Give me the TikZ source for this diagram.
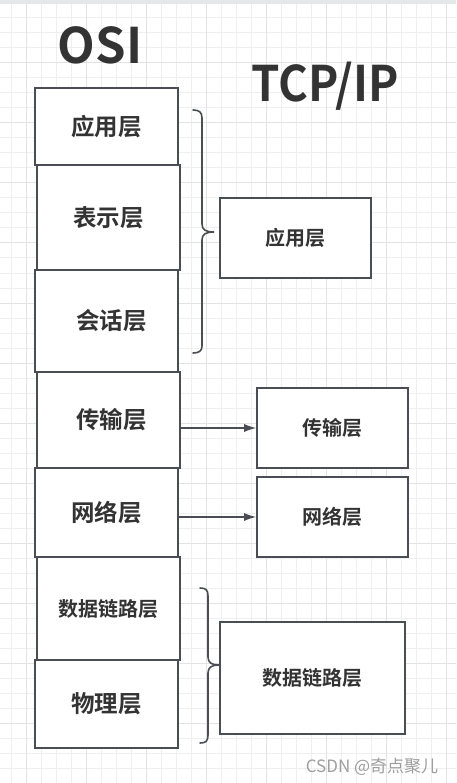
\documentclass[tikz,border=0pt]{standalone}
\usepackage{fontspec}
\setmainfont{Noto Sans CJK SC}[BoldFont={Noto Sans CJK SC Bold}]
\usetikzlibrary{arrows.meta,positioning}
\definecolor{linegray}{HTML}{4A4E54}
\definecolor{darktext}{HTML}{333333}
\definecolor{gridminor}{HTML}{EFEFEF}
\definecolor{gridmajor}{HTML}{E3E3E3}
\definecolor{topband}{HTML}{E6E7E9}
\definecolor{markgray}{HTML}{9E9E9E}

\tikzset{
  layerbox/.style={draw=linegray, line width=1.8pt, fill=white, rectangle, inner sep=0pt,
    minimum width=143pt, text=darktext, font=\fontsize{23.5}{23.5}\selectfont\bfseries},
  tcpbox/.style={draw=linegray, line width=1.6pt, fill=white, rectangle, inner sep=0pt,
    text=darktext, font=\fontsize{20}{20}\selectfont\bfseries},
  title/.style={text=darktext, font=\fontsize{49}{49}\selectfont\bfseries, inner sep=0pt},
  bracket/.style={draw=linegray, line width=1.6pt, line cap=round},
  layerarrow/.style={draw=linegray, line width=1.2pt, -{Latex[length=12pt,width=8pt]}}
}

\begin{document}
\begin{tikzpicture}[x=1pt, y=-1pt]
\useasboundingbox (0,0) rectangle (456,783);
% background grid
\fill[white] (0,0) rectangle (456,783);
\foreach \gx in {11,26,...,446} \draw[gridminor, line width=1pt] (\gx,0) -- (\gx,783);
\foreach \gy in {18,33,...,783} \draw[gridminor, line width=1pt] (0,\gy) -- (456,\gy);
\foreach \gx in {26,86,...,446} \draw[gridmajor, line width=1pt] (\gx,0) -- (\gx,783);
\foreach \gy in {63,123,...,783} \draw[gridmajor, line width=1pt] (0,\gy) -- (456,\gy);
\fill[topband] (0,0) rectangle (456,4);

% titles
\node[title] (osititle) at (100,45) {OSI};
\node[title, xscale=0.93] (tcptitle) at (325,86) {TCP/IP};

% OSI stack
\node[layerbox, minimum height=77pt] (osiapp) at (106.5,126.5) {应用层};
\node[layerbox, minimum height=105pt] (osipres) at (108.5,217.5) {表示层};
\node[layerbox, minimum height=102pt] (osisess) at (106.5,321) {\hspace{10pt}会话层};
\node[layerbox, minimum height=96pt] (ositrans) at (108.5,420) {\hspace{6pt}传输层};
\node[layerbox, minimum height=89pt] (osinet) at (106.5,512.5) {网络层};
\node[layerbox, minimum height=103pt, font=\fontsize{20}{20}\selectfont\bfseries] (osidl) at (108.5,608.5) {数据链路层};
\node[layerbox, minimum height=88pt] (osiphy) at (106.5,704) {物理层};

% TCP/IP stack
\node[tcpbox, minimum width=151pt, minimum height=80pt] (tcpapp) at (295.5,238) {应用层};
\node[tcpbox, minimum width=151pt, minimum height=80pt] (tcptrans) at (332.5,428) {传输层};
\node[tcpbox, minimum width=151pt, minimum height=80pt] (tcpnet) at (332.5,517) {网络层};
\node[tcpbox, minimum width=185pt, minimum height=112pt] (tcpdl) at (312.5,678) {数据链路层};

% braces
\draw[bracket] (193,110) .. controls (199,110) and (202,112) .. (202,118) -- (202,224)
  .. controls (202,230) and (206,232) .. (214,232)
  .. controls (206,232) and (202,234) .. (202,240) -- (202,346)
  .. controls (202,351) and (199,353) .. (193,353);
\draw[bracket] (200,588) .. controls (206,588) and (208,590) .. (208,596) -- (208,657)
  .. controls (208,663) and (212,665) .. (219,665)
  .. controls (212,665) and (208,667) .. (208,673) -- (208,735)
  .. controls (208,741) and (206,743) .. (200,743);

% arrows
\draw[layerarrow] (ositrans.east |- tcptrans.west) -- (tcptrans.west);
\draw[layerarrow] ([xshift=-2pt]osinet.east |- tcpnet.west) -- (tcpnet.west);

% watermark
\node[text=markgray, font=\fontsize{17}{17}\selectfont, inner sep=0pt] (mark) at (372,767) {CSDN @奇点聚儿};
\end{tikzpicture}
\end{document}
